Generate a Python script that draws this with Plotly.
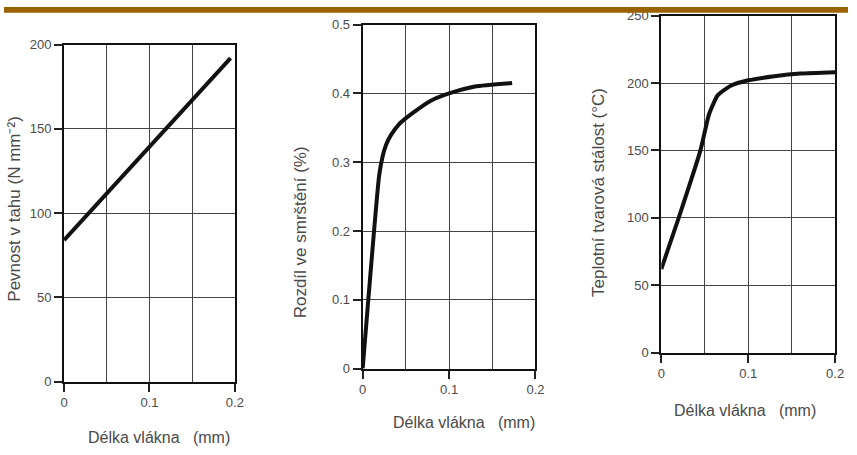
import plotly.graph_objects as go

W, H = 857, 455

# Chart 1: Pevnost v tahu vs délka vlákna
x1 = [0.0, 0.195]
y1 = [84, 192]

# Chart 2: Rozdíl ve smrštění vs délka vlákna
x2 = [0.0, 0.019, 0.023, 0.027, 0.033, 0.042, 0.05, 0.065, 0.08, 0.10, 0.13, 0.173]
y2 = [0.0, 0.28, 0.308, 0.325, 0.34, 0.355, 0.364, 0.378, 0.39, 0.40, 0.41, 0.415]

# Chart 3: Teplotní tvarová stálost vs délka vlákna
x3 = [0.0, 0.02, 0.045, 0.055, 0.065, 0.08, 0.10, 0.13, 0.16, 0.20]
y3 = [62, 100, 150, 177, 191, 198, 202, 205, 207, 208]

y1_ticks = [0, 50, 100, 150, 200]
y2_ticks = [0, 0.1, 0.2, 0.3, 0.4, 0.5]
y3_ticks = [0, 50, 100, 150, 200, 250]
x_ticks = [0, 0.1, 0.2]

x_title = "Délka vlákna   (mm)"
y_titles = ["Pevnost v tahu (N mm⁻²)", "Rozdíl ve smrštění (%)", "Teplotní tvarová stálost (°C)"]

# screen-pixel placement -> paper fraction (compensates the capture scaling)
def PX(p):
    return (p - 2.9) / 0.986 / W

def PY(p):
    return 1 - (p - 6.4) / 0.967 / H

# plot rectangles in target pixels: (left, right, top, bottom)
boxes = [(63, 234, 44, 381), (362, 535, 24, 368), (661, 835, 15, 352)]
# axis-title centres in target pixels
xt_pos = [(158, 437), (463, 422), (745, 410)]
yt_pos = [(14, 208), (300, 232), (598, 192)]
yranges = [[0, 200], [0, 0.5], [0, 250]]
yticks = [y1_ticks, y2_ticks, y3_ticks]
series = [(x1, y1), (x2, y2), (x3, y3)]

fig = go.Figure()
fam = "Liberation Sans, Arial, sans-serif"
tickfont = dict(family=fam, size=13, color="#4a4a4a")
titlefont = dict(family=fam, size=16, color="#4a4a4a")

for i, ((l, r, t, b), (xs, ys)) in enumerate(zip(boxes, series)):
    n = "" if i == 0 else str(i + 1)
    fig.add_trace(go.Scatter(
        x=xs, y=ys, mode="lines",
        line=dict(color="#111111", width=4, shape="spline", smoothing=0.5),
        xaxis="x" + n, yaxis="y" + n, showlegend=False, hoverinfo="skip"))
    common = dict(showline=True, linecolor="#111111", linewidth=2, mirror=True,
                  ticks="outside", ticklen=8, tickwidth=1.5, tickcolor="#222222",
                  gridcolor="#444444", gridwidth=1, zeroline=False,
                  tickfont=tickfont)
    fig.layout["xaxis" + n] = dict(
        domain=[PX(l), PX(r)], anchor="y" + n, range=[0, 0.2],
        tickvals=x_ticks, ticktext=["0", "0.1", "0.2"],
        minor=dict(dtick=0.05, tick0=0, showgrid=True, gridcolor="#444444", gridwidth=1, ticks=""),
        **common)
    fig.layout["yaxis" + n] = dict(
        domain=[PY(b), PY(t)], anchor="x" + n, range=yranges[i],
        tickvals=yticks[i], **common)
    fig.add_annotation(text=x_title, x=PX(xt_pos[i][0]), y=PY(xt_pos[i][1]),
                       xref="paper", yref="paper", showarrow=False,
                       xanchor="center", yanchor="middle", font=titlefont)
    fig.add_annotation(text=y_titles[i], x=PX(yt_pos[i][0]), y=PY(yt_pos[i][1]),
                       xref="paper", yref="paper", showarrow=False, textangle=-90,
                       xanchor="center", yanchor="middle",
                       font=dict(family=fam, size=17, color="#4a4a4a"))

fig.add_shape(type="rect", xref="paper", yref="paper", x0=0, x1=1, y0=1 - 6 / H, y1=1,
              fillcolor="#9a6300", line=dict(width=0), layer="above")

fig.update_layout(width=W, height=H, margin=dict(l=0, r=0, t=0, b=0),
                  paper_bgcolor="white", plot_bgcolor="white")

fig.write_html("out.html",
               config={"displayModeBar": False},
               post_script="document.documentElement.style.overflow='hidden';"
                           "document.body.style.margin='0px';")
